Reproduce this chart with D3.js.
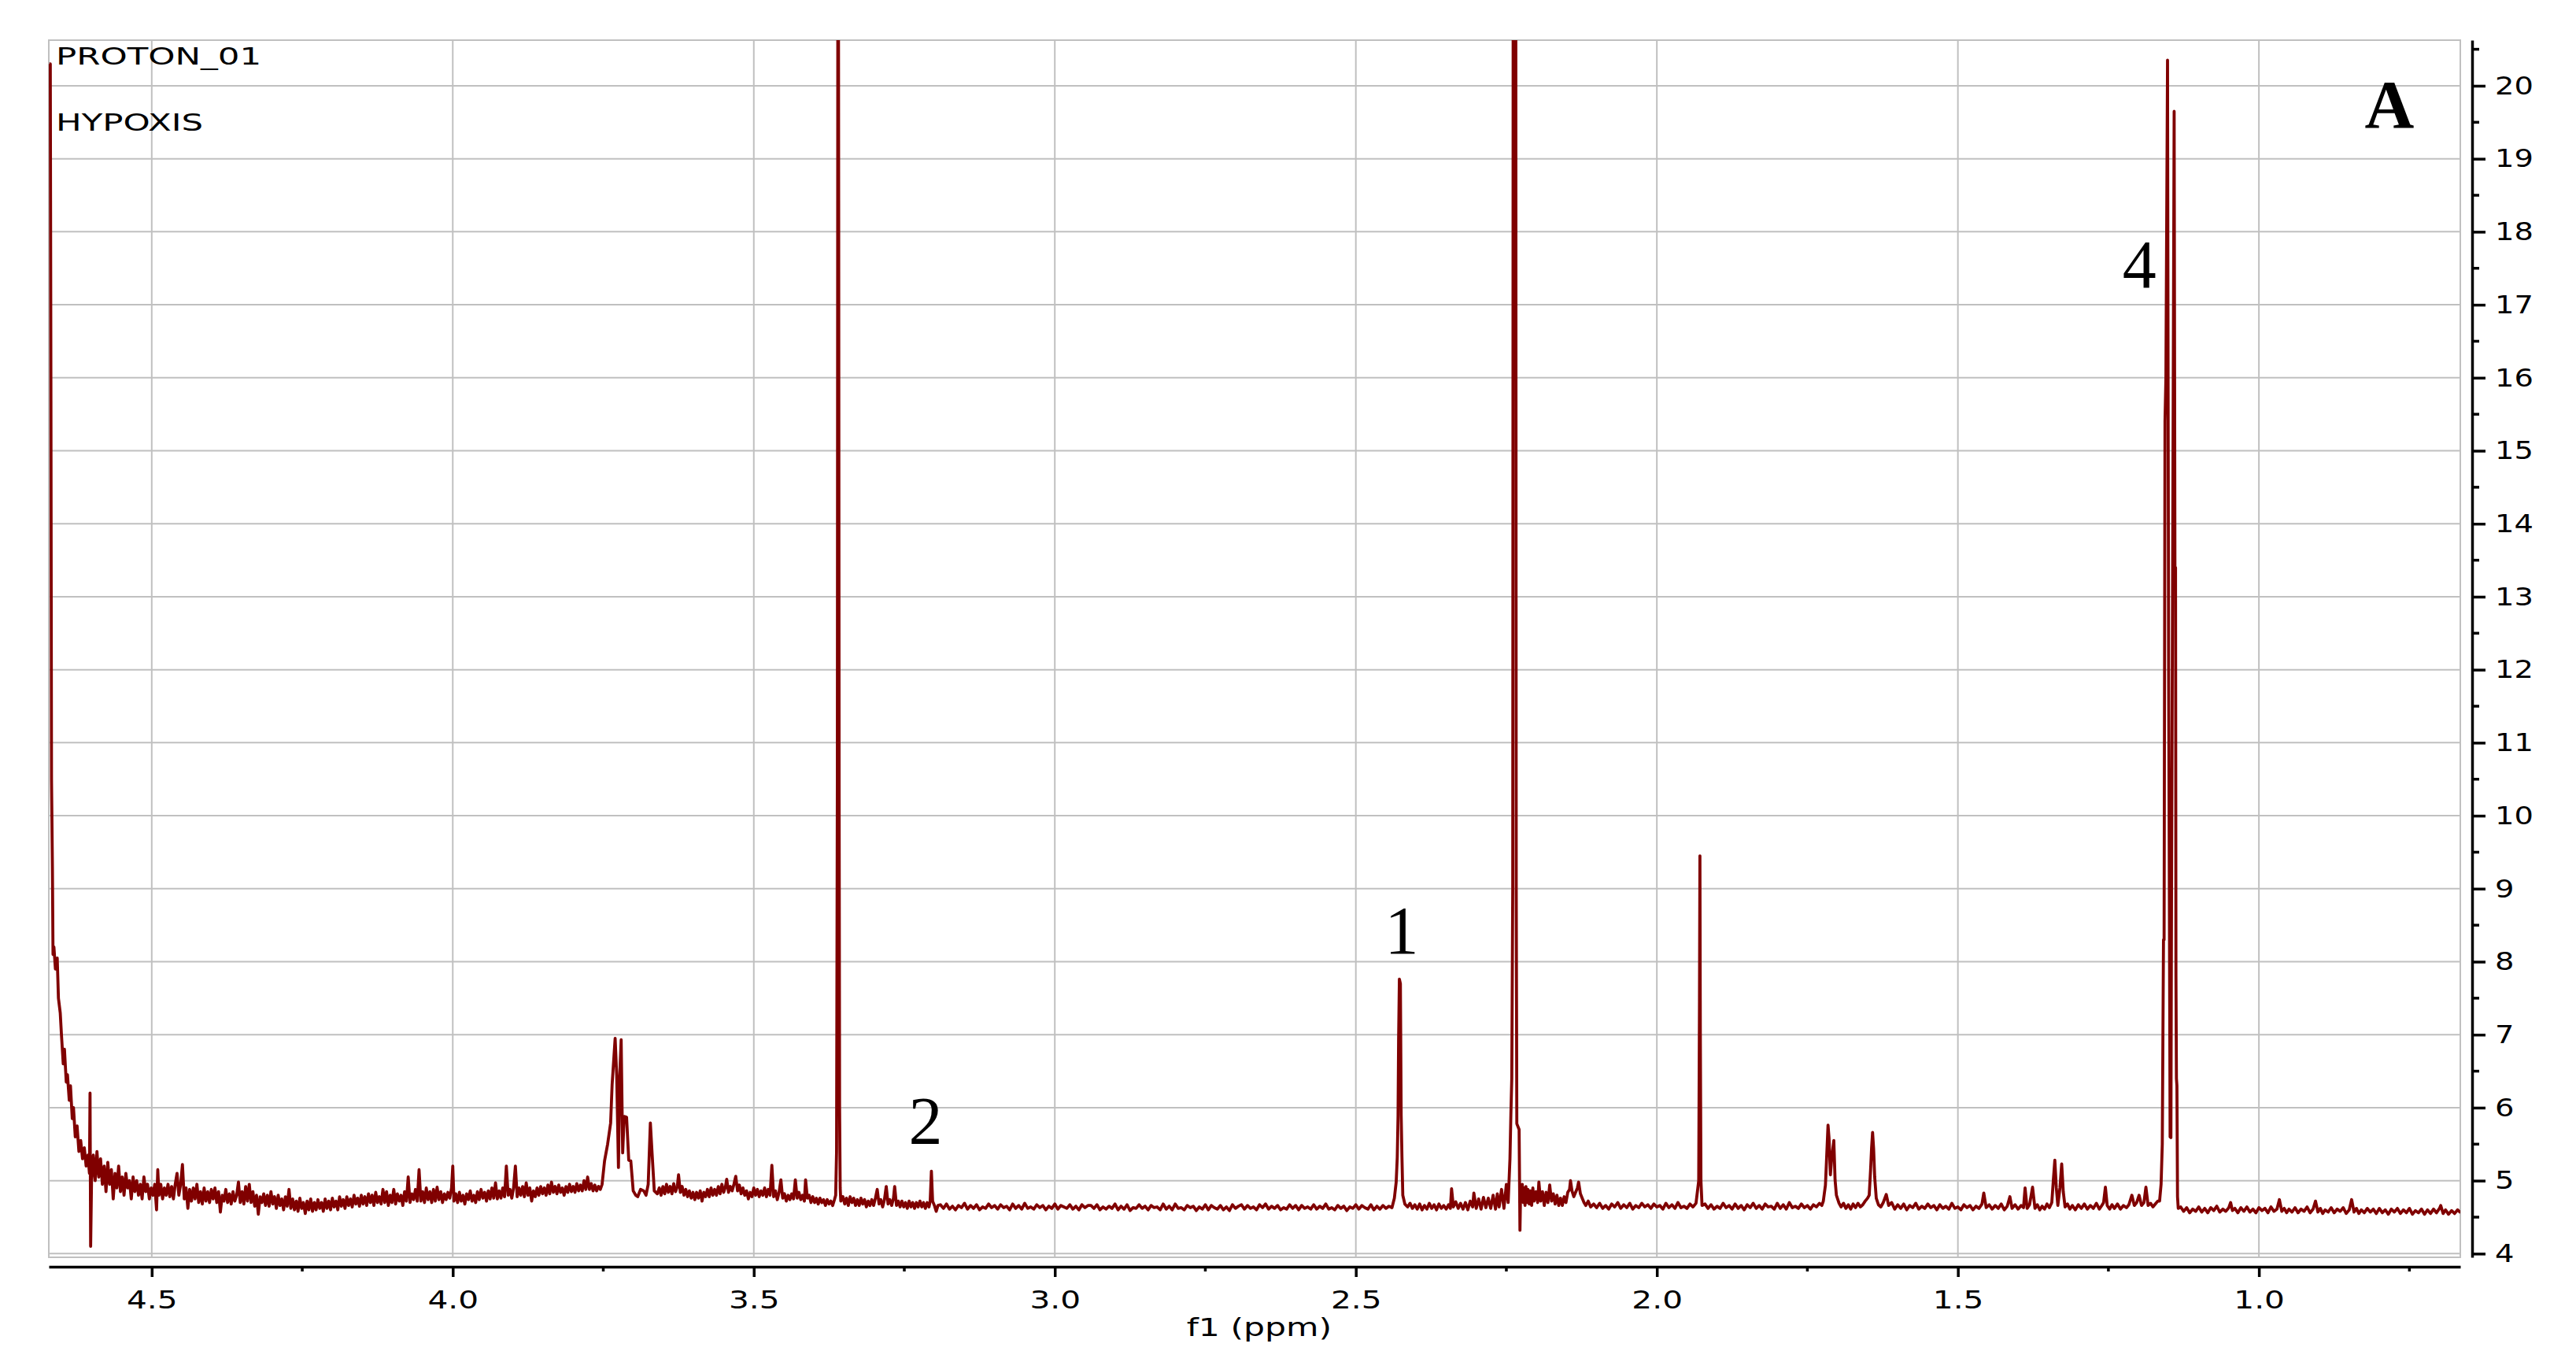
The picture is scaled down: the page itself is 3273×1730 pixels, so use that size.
<!DOCTYPE html>
<html>
<head>
<meta charset="utf-8">
<script src="https://cdn.jsdelivr.net/npm/d3@7"></script>
<style>
  body { margin: 0; background: #fff; }
  svg { display: block; }
</style>
</head>
<body>
<svg id="chart" width="3273" height="1730"></svg>
<script>
// Axis ticks
var xTickValues = [4.5, 4.0, 3.5, 3.0, 2.5, 2.0, 1.5, 1.0];
var xMinorValues = [4.25, 3.75, 3.25, 2.75, 2.25, 1.75, 1.25, 0.75];
var yTickValues = d3.range(4, 21);          // 4 .. 20
var yMinorValues = d3.range(4.5, 21, 1);    // 4.5 .. 20.5

// Spectrum trace [ppm, intensity] left to right
var edgeTail = [
  [4.670, 20.3], [4.6685, 20.3], [4.6675, 15.96], [4.6665, 10.5], [4.6650, 9.3], [4.6640, 8.1],
  [4.6625, 8.2], [4.660, 7.9], [4.657, 8.05], [4.655, 7.5], [4.652, 7.3], [4.650, 7.0],
  [4.647, 6.6], [4.645, 6.8], [4.642, 6.35], [4.640, 6.45], [4.637, 6.1], [4.635, 6.3],
  [4.632, 5.85], [4.630, 6.0], [4.627, 5.6], [4.624, 5.75], [4.621, 5.4], [4.618, 5.55],
  [4.615, 5.3], [4.612, 5.45], [4.609, 5.2], [4.606, 5.35], [4.6035, 5.1], [4.6025, 6.2],
  [4.6015, 4.1], [4.600, 5.0]
];
var noise460 = [
  [4.597, 5.35], [4.594, 5.0], [4.591, 5.4], [4.588, 5.05], [4.585, 5.3], [4.582, 4.95], [4.579, 5.2],
  [4.576, 4.85], [4.573, 5.25], [4.570, 4.95], [4.567, 5.15], [4.564, 4.75], [4.561, 5.1], [4.558, 4.9],
  [4.555, 5.2], [4.552, 4.85], [4.549, 5.05], [4.546, 4.8], [4.543, 5.1], [4.540, 4.9], [4.537, 5.0],
  [4.534, 4.75], [4.531, 5.05], [4.528, 4.85], [4.525, 5.0], [4.522, 4.8], [4.519, 4.95], [4.516, 4.75],
  [4.513, 5.05], [4.510, 4.85], [4.507, 4.95], [4.504, 4.75], [4.501, 4.9], [4.498, 4.8], [4.495, 4.95],
  [4.492, 4.6], [4.490, 5.15], [4.488, 4.8], [4.485, 4.95], [4.482, 4.75], [4.479, 4.9], [4.476, 4.8],
  [4.473, 4.95], [4.470, 4.78], [4.467, 4.92], [4.464, 4.75], [4.461, 4.95], [4.458, 5.1], [4.455, 4.8],
  [4.452, 4.95], [4.449, 5.22], [4.446, 4.75], [4.443, 4.9], [4.440, 4.62], [4.437, 4.88], [4.434, 4.72],
  [4.431, 4.9], [4.428, 4.75], [4.425, 4.95], [4.422, 4.7], [4.419, 4.85], [4.416, 4.68], [4.413, 4.9],
  [4.410, 4.72], [4.407, 4.85], [4.404, 4.7], [4.401, 4.88]
];
var noise440 = [
  [4.398, 4.75], [4.395, 4.9], [4.392, 4.7], [4.389, 4.85], [4.386, 4.57], [4.383, 4.8], [4.380, 4.72],
  [4.377, 4.88], [4.374, 4.7], [4.371, 4.82], [4.368, 4.68], [4.365, 4.85], [4.362, 4.72], [4.359, 4.8],
  [4.356, 4.98], [4.353, 4.7], [4.350, 4.85], [4.347, 4.68], [4.344, 4.92], [4.341, 4.72], [4.338, 4.95],
  [4.335, 4.7], [4.332, 4.85], [4.329, 4.65], [4.326, 4.8], [4.323, 4.54], [4.320, 4.78], [4.317, 4.7],
  [4.314, 4.82], [4.311, 4.66], [4.308, 4.8], [4.305, 4.65], [4.302, 4.85], [4.299, 4.68], [4.296, 4.78],
  [4.293, 4.62], [4.290, 4.8], [4.287, 4.66], [4.284, 4.75], [4.281, 4.6], [4.278, 4.78], [4.275, 4.65],
  [4.272, 4.88], [4.269, 4.62], [4.266, 4.75], [4.263, 4.6], [4.260, 4.72], [4.257, 4.58], [4.254, 4.76],
  [4.251, 4.62], [4.248, 4.7], [4.245, 4.55], [4.242, 4.72], [4.239, 4.6], [4.236, 4.75], [4.233, 4.58],
  [4.230, 4.7], [4.227, 4.6], [4.224, 4.74], [4.221, 4.62], [4.218, 4.7], [4.215, 4.58], [4.212, 4.75],
  [4.209, 4.62], [4.206, 4.72], [4.203, 4.6], [4.200, 4.76], [4.197, 4.64], [4.194, 4.72], [4.191, 4.6],
  [4.188, 4.78], [4.185, 4.65], [4.182, 4.74], [4.179, 4.62], [4.176, 4.78], [4.173, 4.66], [4.170, 4.75],
  [4.167, 4.64], [4.164, 4.8], [4.161, 4.68], [4.158, 4.76], [4.155, 4.65], [4.152, 4.8], [4.149, 4.68],
  [4.146, 4.78], [4.143, 4.66], [4.140, 4.82], [4.137, 4.7], [4.134, 4.8], [4.131, 4.66], [4.128, 4.84],
  [4.125, 4.7], [4.122, 4.78], [4.119, 4.68], [4.116, 4.88], [4.113, 4.7], [4.110, 4.85], [4.107, 4.66],
  [4.104, 4.8], [4.101, 4.7], [4.098, 4.88], [4.095, 4.68], [4.092, 4.82], [4.089, 4.72], [4.086, 4.8],
  [4.083, 4.66], [4.080, 4.85], [4.077, 4.72], [4.074, 5.05], [4.071, 4.7], [4.068, 4.82], [4.065, 4.74],
  [4.062, 4.88], [4.059, 4.72], [4.056, 5.15], [4.053, 4.72], [4.050, 4.85], [4.047, 4.7], [4.044, 4.9],
  [4.041, 4.74], [4.038, 4.85], [4.035, 4.7], [4.032, 4.88], [4.029, 4.72], [4.026, 4.91], [4.023, 4.74],
  [4.020, 4.85], [4.017, 4.7], [4.014, 4.82], [4.011, 4.74], [4.008, 4.84], [4.005, 4.76], [4.002, 4.9],
  [4.000, 5.2], [3.998, 4.72], [3.995, 4.82]
];
var noise400 = [
  [3.992, 4.7], [3.989, 4.84], [3.986, 4.72], [3.983, 4.8], [3.980, 4.68], [3.977, 4.82], [3.974, 4.74],
  [3.971, 4.86], [3.968, 4.72], [3.965, 4.8], [3.962, 4.7], [3.959, 4.85], [3.956, 4.74], [3.953, 4.88],
  [3.950, 4.76], [3.947, 4.84], [3.944, 4.72], [3.941, 4.86], [3.938, 4.75], [3.935, 4.9], [3.932, 4.76],
  [3.929, 4.97], [3.926, 4.75], [3.923, 4.86], [3.920, 4.76], [3.917, 4.9], [3.914, 4.78], [3.911, 5.2],
  [3.908, 4.8], [3.905, 4.88], [3.902, 4.76], [3.899, 4.9], [3.896, 5.2], [3.893, 4.78], [3.890, 4.9],
  [3.887, 4.8], [3.884, 4.92], [3.881, 4.78], [3.878, 4.97], [3.875, 4.8], [3.872, 4.9], [3.869, 4.72],
  [3.866, 4.86], [3.863, 4.78], [3.860, 4.9], [3.857, 4.8], [3.854, 4.92], [3.851, 4.82], [3.848, 4.9],
  [3.845, 4.8], [3.842, 4.94], [3.839, 4.82], [3.836, 4.98], [3.833, 4.84], [3.830, 4.92], [3.827, 4.82],
  [3.824, 4.94], [3.821, 4.84], [3.818, 4.9], [3.815, 4.8], [3.812, 4.92], [3.809, 4.84], [3.806, 4.95],
  [3.803, 4.85], [3.800, 4.92], [3.797, 4.84], [3.794, 4.96], [3.791, 4.86], [3.788, 4.94], [3.785, 4.86],
  [3.782, 5.0], [3.779, 4.88], [3.776, 5.05], [3.773, 4.88], [3.770, 4.96], [3.767, 4.86], [3.764, 4.94],
  [3.761, 4.86], [3.758, 4.92], [3.755, 4.88], [3.752, 4.95]
];
var multiplet373 = [
  [3.7479, 5.27], [3.7428, 5.5], [3.7378, 5.79], [3.7353, 6.32], [3.7303, 6.95], [3.7277, 6.44],
  [3.7248, 5.18], [3.7227, 6.44], [3.7203, 6.93], [3.7178, 5.38], [3.7153, 5.88], [3.7113, 5.87],
  [3.7077, 5.28], [3.7043, 5.27], [3.7003, 4.86], [3.6960, 4.8], [3.6928, 4.78], [3.6880, 4.88],
  [3.6828, 4.86], [3.6790, 4.8], [3.6754, 4.95], [3.6718, 5.79], [3.6690, 5.38], [3.6653, 4.86],
  [3.6603, 4.82]
];
var noise366 = [
  [3.657, 4.9], [3.654, 4.8], [3.651, 4.92], [3.648, 4.82], [3.645, 4.95], [3.642, 4.84], [3.639, 4.92],
  [3.636, 4.82], [3.633, 4.96], [3.630, 4.85], [3.627, 4.92], [3.625, 5.08], [3.622, 4.84], [3.619, 4.92],
  [3.616, 4.8], [3.613, 4.88], [3.610, 4.78], [3.607, 4.86], [3.604, 4.76], [3.601, 4.84], [3.598, 4.74],
  [3.595, 4.84], [3.592, 4.76], [3.589, 4.86], [3.586, 4.72], [3.583, 4.84], [3.580, 4.78], [3.577, 4.88],
  [3.574, 4.78], [3.571, 4.9], [3.568, 4.8], [3.565, 4.88], [3.562, 4.8], [3.559, 4.92], [3.556, 4.82],
  [3.553, 4.95], [3.550, 4.84], [3.547, 4.92], [3.545, 5.02], [3.542, 4.84], [3.539, 4.92], [3.536, 4.86],
  [3.533, 4.95], [3.530, 5.06], [3.527, 4.86], [3.524, 4.94], [3.521, 4.82], [3.518, 4.9], [3.515, 4.8],
  [3.512, 4.86], [3.509, 4.75], [3.506, 4.84], [3.503, 4.78], [3.500, 4.9], [3.497, 4.8], [3.494, 4.88],
  [3.491, 4.78], [3.488, 4.86], [3.485, 4.8], [3.482, 4.9], [3.479, 4.78], [3.476, 4.88], [3.473, 4.8],
  [3.470, 5.21], [3.467, 4.78], [3.464, 4.86], [3.461, 4.74], [3.458, 4.84], [3.455, 5.01], [3.452, 4.76],
  [3.449, 4.82], [3.446, 4.72], [3.443, 4.8], [3.440, 4.74], [3.437, 4.82], [3.434, 4.75], [3.431, 5.01],
  [3.428, 4.76], [3.425, 4.84], [3.422, 4.74], [3.419, 4.8], [3.416, 4.72], [3.414, 5.01], [3.411, 4.76],
  [3.408, 4.8], [3.405, 4.7], [3.402, 4.78], [3.399, 4.7], [3.396, 4.76], [3.393, 4.68], [3.390, 4.76],
  [3.387, 4.7], [3.384, 4.74], [3.381, 4.66], [3.378, 4.74], [3.375, 4.68], [3.372, 4.72], [3.369, 4.66],
  [3.366, 4.74], [3.364, 4.8]
];
var peak336 = [
  [3.3625, 5.4], [3.3612, 10.6], [3.3603, 23], [3.3596, 23], [3.3590, 18.2], [3.3583, 10.5],
  [3.3575, 6.0], [3.3565, 4.9], [3.3555, 4.72]
];
var noise335 = [
  [3.352, 4.78], [3.349, 4.68], [3.346, 4.76], [3.343, 4.66], [3.340, 4.78], [3.337, 4.7], [3.334, 4.76],
  [3.331, 4.66], [3.328, 4.74], [3.325, 4.66], [3.322, 4.76], [3.319, 4.68], [3.316, 4.74], [3.313, 4.64],
  [3.310, 4.72], [3.307, 4.66], [3.304, 4.74], [3.301, 4.66], [3.298, 4.76], [3.295, 4.88], [3.292, 4.68],
  [3.289, 4.74], [3.286, 4.64], [3.283, 4.74], [3.280, 4.92], [3.277, 4.68], [3.274, 4.74], [3.271, 4.66],
  [3.268, 4.76], [3.266, 4.92], [3.263, 4.66], [3.260, 4.72], [3.257, 4.64], [3.254, 4.72], [3.251, 4.64],
  [3.248, 4.7], [3.245, 4.62], [3.242, 4.72], [3.239, 4.64], [3.236, 4.7], [3.233, 4.62], [3.230, 4.7],
  [3.227, 4.64], [3.224, 4.72], [3.221, 4.64], [3.218, 4.7], [3.215, 4.62], [3.212, 4.7], [3.209, 4.64],
  [3.207, 4.72], [3.205, 5.13], [3.203, 4.72], [3.200, 4.66], [3.197, 4.58], [3.194, 4.66]
];
var noise319 = [
  [3.190, 4.67], [3.185, 4.62], [3.180, 4.68], [3.175, 4.61], [3.170, 4.65], [3.165, 4.60], [3.160, 4.66],
  [3.155, 4.63], [3.150, 4.69], [3.145, 4.61], [3.140, 4.66], [3.135, 4.62], [3.130, 4.67], [3.125, 4.60],
  [3.120, 4.64], [3.115, 4.62], [3.110, 4.68], [3.105, 4.63], [3.100, 4.66], [3.095, 4.61], [3.090, 4.67],
  [3.085, 4.63], [3.080, 4.65], [3.075, 4.60], [3.070, 4.68], [3.065, 4.62], [3.060, 4.66], [3.055, 4.61],
  [3.050, 4.69], [3.045, 4.62], [3.040, 4.64], [3.035, 4.61], [3.030, 4.67], [3.025, 4.63], [3.020, 4.66],
  [3.015, 4.60], [3.010, 4.65], [3.005, 4.62], [3.000, 4.68], [2.995, 4.61], [2.990, 4.66], [2.985, 4.64],
  [2.980, 4.62], [2.975, 4.67], [2.970, 4.61], [2.965, 4.65], [2.960, 4.60], [2.955, 4.67], [2.950, 4.63],
  [2.945, 4.66], [2.940, 4.66], [2.935, 4.62], [2.930, 4.67], [2.925, 4.60], [2.920, 4.64], [2.915, 4.61],
  [2.910, 4.65], [2.905, 4.62], [2.900, 4.68], [2.895, 4.60], [2.890, 4.65], [2.885, 4.61], [2.880, 4.67],
  [2.875, 4.59], [2.870, 4.63], [2.865, 4.62], [2.860, 4.67], [2.855, 4.62], [2.850, 4.65], [2.845, 4.60],
  [2.840, 4.66], [2.835, 4.63], [2.830, 4.64], [2.825, 4.60], [2.820, 4.68], [2.815, 4.61], [2.810, 4.65],
  [2.805, 4.60], [2.800, 4.68], [2.795, 4.62], [2.790, 4.63], [2.785, 4.60], [2.780, 4.66], [2.775, 4.63],
  [2.770, 4.65], [2.765, 4.59], [2.760, 4.64], [2.755, 4.61], [2.750, 4.67], [2.745, 4.60], [2.740, 4.66],
  [2.735, 4.63], [2.730, 4.61], [2.725, 4.66], [2.720, 4.60], [2.715, 4.64], [2.710, 4.59], [2.705, 4.67],
  [2.700, 4.62], [2.695, 4.65], [2.690, 4.67], [2.685, 4.61], [2.680, 4.66], [2.675, 4.62], [2.670, 4.64],
  [2.665, 4.60], [2.660, 4.67], [2.655, 4.63], [2.650, 4.68], [2.645, 4.61], [2.640, 4.65], [2.635, 4.62],
  [2.630, 4.66], [2.625, 4.60], [2.620, 4.63], [2.615, 4.61], [2.610, 4.67], [2.605, 4.62], [2.600, 4.66],
  [2.595, 4.60], [2.590, 4.66], [2.585, 4.62], [2.580, 4.64], [2.575, 4.61], [2.570, 4.67], [2.565, 4.61],
  [2.560, 4.65], [2.555, 4.62], [2.550, 4.68], [2.545, 4.61], [2.540, 4.63], [2.535, 4.60], [2.530, 4.66],
  [2.525, 4.62], [2.520, 4.65], [2.515, 4.59], [2.510, 4.64], [2.505, 4.62], [2.500, 4.67], [2.495, 4.61],
  [2.490, 4.66], [2.485, 4.63], [2.480, 4.61], [2.475, 4.67], [2.470, 4.60], [2.465, 4.65], [2.460, 4.61],
  [2.455, 4.66], [2.450, 4.62], [2.445, 4.65], [2.440, 4.63]
];
var peak243 = [
  [2.436, 4.76], [2.433, 4.98], [2.4312, 5.32], [2.4299, 5.89], [2.429, 6.91], [2.4277, 7.76],
  [2.426, 7.7], [2.4247, 5.89], [2.4234, 5.32], [2.422, 4.8], [2.4186, 4.68]
];
var noise241 = [
  [2.414, 4.64], [2.410, 4.69], [2.406, 4.62], [2.402, 4.67], [2.398, 4.61], [2.394, 4.68], [2.390, 4.6],
  [2.386, 4.66], [2.382, 4.61], [2.378, 4.69], [2.374, 4.62], [2.370, 4.67], [2.366, 4.6], [2.362, 4.68],
  [2.358, 4.62], [2.354, 4.66], [2.350, 4.61], [2.346, 4.67], [2.343, 4.62], [2.341, 4.89], [2.338, 4.64],
  [2.334, 4.71], [2.330, 4.62], [2.326, 4.69], [2.322, 4.61], [2.318, 4.7], [2.314, 4.6], [2.310, 4.72],
  [2.306, 4.64], [2.304, 4.83], [2.300, 4.62], [2.296, 4.75], [2.292, 4.61], [2.288, 4.77], [2.284, 4.63],
  [2.280, 4.76], [2.276, 4.62], [2.272, 4.8], [2.268, 4.61], [2.265, 4.82], [2.262, 4.64], [2.258, 4.88],
  [2.254, 4.62], [2.250, 4.95], [2.247, 4.7]
];
var peak224 = [
  [2.2455, 5.0], [2.2440, 5.3], [2.2425, 5.9], [2.2410, 6.4], [2.2394, 9], [2.2386, 23], [2.2344, 23],
  [2.2336, 9], [2.2326, 5.78], [2.2288, 5.7], [2.2274, 4.32], [2.2262, 4.9]
];
var noise222 = [
  [2.2245, 4.75], [2.2235, 4.95], [2.222, 4.7], [2.2205, 4.9], [2.219, 4.66], [2.2175, 4.92], [2.216, 4.7],
  [2.214, 4.88], [2.212, 4.68], [2.210, 4.86], [2.208, 4.66], [2.206, 4.9], [2.204, 4.72], [2.201, 4.85],
  [2.198, 4.7], [2.196, 4.98], [2.193, 4.72], [2.190, 4.85], [2.187, 4.66], [2.184, 4.84], [2.181, 4.7],
  [2.178, 4.94], [2.175, 4.72], [2.172, 4.82], [2.169, 4.68], [2.166, 4.8], [2.163, 4.66], [2.160, 4.76],
  [2.157, 4.66], [2.154, 4.78], [2.151, 4.7], [2.148, 4.84], [2.145, 4.88], [2.1435, 5.0], [2.141, 4.86],
  [2.138, 4.78], [2.135, 4.84], [2.132, 4.9], [2.130, 4.98], [2.127, 4.82], [2.124, 4.76], [2.121, 4.7],
  [2.118, 4.66], [2.114, 4.72], [2.110, 4.64]
];
var noise211 = [
  [2.105, 4.68], [2.100, 4.63], [2.095, 4.69], [2.090, 4.62], [2.085, 4.66], [2.080, 4.61], [2.075, 4.68],
  [2.070, 4.64], [2.065, 4.70], [2.060, 4.62], [2.055, 4.67], [2.050, 4.63], [2.045, 4.69], [2.040, 4.61],
  [2.035, 4.66], [2.030, 4.63], [2.025, 4.69], [2.020, 4.64], [2.015, 4.67], [2.010, 4.62], [2.005, 4.68],
  [2.000, 4.64], [1.995, 4.66], [1.990, 4.61], [1.985, 4.69], [1.980, 4.63], [1.975, 4.67], [1.970, 4.62],
  [1.965, 4.70], [1.960, 4.63], [1.955, 4.65], [1.950, 4.62], [1.945, 4.68], [1.940, 4.64], [1.935, 4.69]
];
var peak193 = [
  [1.9305, 5.0], [1.9292, 7.5], [1.9285, 9.45], [1.9278, 7.0], [1.9268, 5.0], [1.925, 4.66]
];
var noise192 = [
  [1.920, 4.68], [1.915, 4.62], [1.910, 4.67], [1.905, 4.61], [1.900, 4.65], [1.895, 4.62], [1.890, 4.69],
  [1.885, 4.63], [1.880, 4.66], [1.875, 4.61], [1.870, 4.68], [1.865, 4.62], [1.860, 4.66], [1.855, 4.60],
  [1.850, 4.67], [1.845, 4.63], [1.840, 4.69], [1.835, 4.62], [1.830, 4.66], [1.825, 4.61], [1.820, 4.68],
  [1.815, 4.64], [1.810, 4.65], [1.805, 4.61], [1.800, 4.69], [1.795, 4.62], [1.790, 4.67], [1.785, 4.61],
  [1.780, 4.70], [1.775, 4.63], [1.770, 4.65], [1.765, 4.62], [1.760, 4.68], [1.755, 4.63], [1.750, 4.66],
  [1.745, 4.61], [1.740, 4.67], [1.735, 4.64], [1.730, 4.69], [1.726, 4.66]
];
var multiplet171 = [
  [1.7235, 4.72], [1.720, 4.94], [1.7183, 5.26], [1.7157, 5.76], [1.714, 5.58], [1.7118, 5.08],
  [1.7097, 5.3], [1.7061, 5.55], [1.704, 5.01], [1.7018, 4.8], [1.6974, 4.69],
  [1.694, 4.64], [1.690, 4.69], [1.686, 4.62], [1.682, 4.67], [1.678, 4.61], [1.674, 4.68],
  [1.670, 4.63], [1.666, 4.69], [1.662, 4.64], [1.658, 4.67], [1.654, 4.72], [1.650, 4.76],
  [1.6473, 4.8], [1.645, 5.15], [1.6434, 5.44], [1.6417, 5.66], [1.640, 5.44], [1.6382, 5.05],
  [1.6356, 4.76], [1.632, 4.67]
];
var noise163 = [
  [1.628, 4.64], [1.624, 4.70], [1.619, 4.81], [1.615, 4.66], [1.610, 4.70], [1.605, 4.61], [1.600, 4.67],
  [1.595, 4.62], [1.590, 4.68], [1.585, 4.60], [1.580, 4.66], [1.575, 4.63], [1.570, 4.69], [1.565, 4.61],
  [1.560, 4.65], [1.555, 4.62], [1.550, 4.68], [1.545, 4.63], [1.540, 4.66], [1.535, 4.60], [1.530, 4.67],
  [1.525, 4.62], [1.520, 4.65], [1.515, 4.61], [1.510, 4.69], [1.505, 4.62], [1.500, 4.64], [1.495, 4.60],
  [1.490, 4.67], [1.485, 4.63], [1.480, 4.66], [1.475, 4.60], [1.470, 4.65], [1.465, 4.62], [1.460, 4.68],
  [1.457, 4.83], [1.453, 4.63], [1.448, 4.67], [1.443, 4.61], [1.438, 4.66], [1.433, 4.62], [1.428, 4.68],
  [1.423, 4.60], [1.418, 4.65], [1.4136, 4.78], [1.410, 4.62], [1.405, 4.67], [1.400, 4.61], [1.395, 4.66],
  [1.391, 4.63], [1.3884, 4.90], [1.385, 4.62], [1.381, 4.67], [1.376, 4.91], [1.372, 4.62], [1.368, 4.67],
  [1.364, 4.60], [1.360, 4.65], [1.356, 4.61], [1.352, 4.68], [1.348, 4.63], [1.344, 4.70], [1.3415, 5.0],
  [1.339, 5.28], [1.3365, 4.9], [1.334, 4.66], [1.3305, 4.9], [1.3276, 5.23], [1.325, 4.85], [1.322, 4.64],
  [1.318, 4.68], [1.314, 4.61], [1.310, 4.66], [1.305, 4.60], [1.300, 4.67], [1.295, 4.62], [1.290, 4.68],
  [1.285, 4.61], [1.280, 4.66], [1.275, 4.62], [1.270, 4.69], [1.265, 4.61], [1.261, 4.66], [1.258, 4.70],
  [1.255, 4.91], [1.252, 4.66], [1.248, 4.61], [1.244, 4.67], [1.240, 4.62], [1.235, 4.68], [1.230, 4.61],
  [1.225, 4.66], [1.220, 4.63], [1.216, 4.67], [1.211, 4.80], [1.207, 4.66], [1.203, 4.70], [1.199, 4.80],
  [1.195, 4.66], [1.191, 4.70], [1.1877, 4.91], [1.184, 4.66], [1.180, 4.69], [1.176, 4.64], [1.172, 4.68],
  [1.168, 4.72]
];
var doublet115 = [
  [1.1650, 4.72], [1.1625, 4.95], [1.1605, 5.5], [1.1585, 8.3], [1.1575, 8.3], [1.1560, 15.4],
  [1.1545, 16.0], [1.1518, 20.35], [1.1500, 12.0], [1.1490, 9.6], [1.1475, 5.6], [1.1462, 5.59],
  [1.1450, 9.4], [1.1440, 11.7], [1.1408, 19.65], [1.1395, 13.4], [1.1385, 13.4], [1.1378, 7.8],
  [1.1370, 6.4], [1.1362, 6.3], [1.1352, 4.78], [1.1340, 4.62]
];
var noise113 = [
  [1.130, 4.64], [1.125, 4.58], [1.120, 4.63], [1.115, 4.56], [1.110, 4.61], [1.105, 4.58], [1.100, 4.64],
  [1.095, 4.57], [1.090, 4.62], [1.085, 4.56], [1.080, 4.63], [1.075, 4.59], [1.070, 4.65], [1.065, 4.57],
  [1.060, 4.61], [1.055, 4.58], [1.050, 4.63], [1.047, 4.70], [1.044, 4.59], [1.040, 4.62], [1.035, 4.56],
  [1.030, 4.63], [1.025, 4.58], [1.020, 4.64], [1.015, 4.57], [1.010, 4.61], [1.005, 4.56], [1.000, 4.63],
  [0.995, 4.59], [0.990, 4.62], [0.985, 4.56], [0.980, 4.64], [0.975, 4.58], [0.970, 4.61], [0.966, 4.74],
  [0.962, 4.58], [0.958, 4.62], [0.954, 4.56], [0.950, 4.61], [0.945, 4.57], [0.940, 4.63], [0.935, 4.56],
  [0.930, 4.61], [0.925, 4.58], [0.920, 4.64], [0.915, 4.56], [0.910, 4.61], [0.906, 4.72], [0.902, 4.57],
  [0.898, 4.62], [0.894, 4.55], [0.890, 4.60], [0.885, 4.57], [0.880, 4.63], [0.875, 4.56], [0.870, 4.61],
  [0.865, 4.58], [0.860, 4.63], [0.855, 4.55], [0.850, 4.60], [0.846, 4.74], [0.842, 4.57], [0.838, 4.62],
  [0.834, 4.55], [0.830, 4.60], [0.825, 4.56], [0.820, 4.62], [0.815, 4.57], [0.810, 4.61], [0.805, 4.55],
  [0.800, 4.62], [0.795, 4.56], [0.790, 4.60], [0.785, 4.54], [0.780, 4.61], [0.775, 4.57], [0.770, 4.62],
  [0.765, 4.55], [0.760, 4.60], [0.755, 4.56], [0.750, 4.62], [0.745, 4.54], [0.740, 4.59], [0.735, 4.56],
  [0.730, 4.61], [0.725, 4.54], [0.720, 4.60], [0.715, 4.55], [0.710, 4.61], [0.705, 4.56], [0.700, 4.62],
  [0.698, 4.66], [0.694, 4.55], [0.690, 4.60], [0.685, 4.54], [0.680, 4.59], [0.675, 4.55], [0.670, 4.60],
  [0.665, 4.56]
];

// Peak annotations [label, ppm, intensity at baseline of text]
var peakLabels = [["1", 2.4238, 8.11], ["2", 3.2147, 5.5], ["4", 1.1985, 17.24]];

var trace = [].concat(edgeTail, noise460, noise440, noise400, multiplet373, noise366, peak336,
  noise335, noise319, peak243, noise241, peak224, noise222, noise211, peak193, noise192,
  multiplet171, noise163, doublet115, noise113);

var svg = d3.select("#chart");
var plotLeft = 62, plotRight = 3126, plotTop = 51, plotBottom = 1597;

var x = d3.scaleLinear().domain([4.671, 0.6655]).range([plotLeft, plotRight]);
var y = d3.scaleLinear().domain([3.95, 20.625]).range([plotBottom, plotTop]);

var grey = "#c0c0c0";
var sansFont = "'DejaVu Sans', Verdana, sans-serif";
var serifFont = "'Liberation Serif', 'Times New Roman', serif";

// stretch text horizontally, the original labels are wide
function stretch(sel, k) {
  sel.each(function() {
    var w = this.getComputedTextLength();
    d3.select(this).attr("textLength", w * k).attr("lengthAdjust", "spacingAndGlyphs");
  });
}

// grid
svg.append("g").selectAll("line").data(xTickValues).enter().append("line")
  .attr("x1", d => x(d)).attr("x2", d => x(d))
  .attr("y1", plotTop).attr("y2", plotBottom)
  .attr("stroke", grey).attr("stroke-width", 2);
svg.append("g").selectAll("line").data(yTickValues).enter().append("line")
  .attr("x1", plotLeft).attr("x2", plotRight)
  .attr("y1", d => y(d)).attr("y2", d => y(d))
  .attr("stroke", grey).attr("stroke-width", 2);
svg.append("rect")
  .attr("x", plotLeft).attr("y", plotTop)
  .attr("width", plotRight - plotLeft).attr("height", plotBottom - plotTop)
  .attr("fill", "none").attr("stroke", grey).attr("stroke-width", 2);

// spectrum
svg.append("clipPath").attr("id", "plotClip").append("rect")
  .attr("x", plotLeft).attr("y", plotTop)
  .attr("width", plotRight - plotLeft).attr("height", plotBottom - plotTop);

var line = d3.line().x(d => x(d[0])).y(d => y(d[1]));
svg.append("path")
  .datum(trace)
  .attr("clip-path", "url(#plotClip)")
  .attr("d", line)
  .attr("fill", "none")
  .attr("stroke", "#800000")
  .attr("stroke-width", 3.8)
  .attr("stroke-linejoin", "round");

// right axis
var yAxisG = svg.append("g").attr("transform", "translate(3141,0)")
  .call(d3.axisRight(y).tickValues(yTickValues).tickSize(17).tickSizeOuter(0).tickPadding(12)
    .tickFormat(d3.format("d")));
yAxisG.append("g").selectAll("line").data(yMinorValues).enter().append("line")
  .attr("x1", 0).attr("x2", 9).attr("y1", d => y(d)).attr("y2", d => y(d));
yAxisG.selectAll("line").attr("stroke", "#000").attr("stroke-width", 3.5);
yAxisG.select(".domain").attr("stroke-width", 3.5);
yAxisG.selectAll("text").attr("font-family", sansFont).attr("font-size", 32).attr("fill", "#000");
stretch(yAxisG.selectAll(".tick text"), 1.2);

// bottom axis
var xAxisG = svg.append("g").attr("transform", "translate(0,1609)")
  .call(d3.axisBottom(x).tickValues(xTickValues).tickSize(13).tickSizeOuter(0)
    .tickFormat(d3.format(".1f")));
xAxisG.append("g").selectAll("line").data(xMinorValues).enter().append("line")
  .attr("x1", d => x(d)).attr("x2", d => x(d)).attr("y1", 0).attr("y2", 6);
xAxisG.selectAll("line").attr("stroke", "#000").attr("stroke-width", 3.5);
xAxisG.select(".domain").attr("stroke-width", 3.5);
xAxisG.selectAll(".tick text").attr("y", 53).attr("dy", 0)
  .attr("font-family", sansFont).attr("font-size", 32).attr("fill", "#000");
stretch(xAxisG.selectAll(".tick text"), 1.27);

var xLabel = svg.append("text")
  .attr("x", (plotLeft + plotRight) / 2 + 6).attr("y", 1697)
  .attr("text-anchor", "middle")
  .attr("font-family", sansFont).attr("font-size", 32)
  .text("f1 (ppm)");
stretch(xLabel, 1.33);

// header texts
var t1 = svg.append("text").attr("x", 71).attr("y", 82)
  .attr("font-family", sansFont).attr("font-size", 30).text("PROTON_01");
var t2 = svg.append("text").attr("x", 71).attr("y", 166)
  .attr("font-family", sansFont).attr("font-size", 30).text("HYPOXIS");
stretch(t1, 1.45);
stretch(t2, 1.45);

svg.append("text").attr("x", 3036).attr("y", 162)
  .attr("text-anchor", "middle")
  .attr("font-family", serifFont).attr("font-weight", "bold").attr("font-size", 87)
  .text("A");

// peak numbers
svg.append("g").selectAll("text").data(peakLabels).enter().append("text")
  .attr("x", d => x(d[1])).attr("y", d => y(d[2]))
  .attr("text-anchor", "middle")
  .attr("font-family", serifFont).attr("font-size", 86)
  .text(d => d[0]);
</script>
</body>
</html>
